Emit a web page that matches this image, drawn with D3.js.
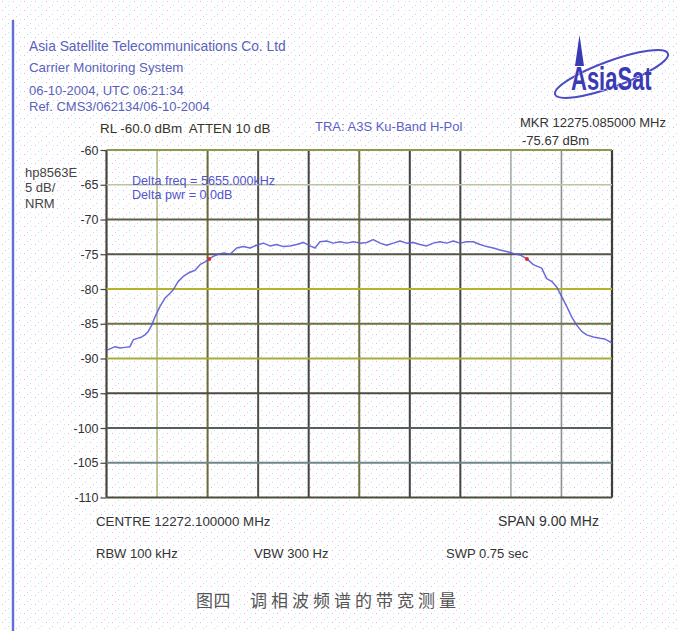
<!DOCTYPE html>
<html>
<head>
<meta charset="utf-8">
<title>AsiaSat carrier bandwidth measurement</title>
<script src="https://cdn.jsdelivr.net/npm/d3@7"></script>
<style>
  html, body { margin: 0; padding: 0; background: #fff; }
  svg { display: block; font-family: "Liberation Sans", Arial, sans-serif; }
  text { white-space: pre; }
</style>
</head>
<body>
<svg id="chart" width="679" height="631"></svg>
<script>
// Analyzer settings
const centreMHz = 12272.1;
const spanMHz = 9.0;
const levelTicks = [-60, -65, -70, -75, -80, -85, -90, -95, -100, -105, -110];

// Trace: frequency (MHz) and level (dBm)
const freqMHz = [
  12267.609, 12267.693, 12267.751, 12267.840, 12267.929, 12268.018, 12268.077, 12268.148,
  12268.227, 12268.285, 12268.344, 12268.405, 12268.464, 12268.553, 12268.642, 12268.731,
  12268.789, 12268.878, 12268.967, 12269.056, 12269.176, 12269.265, 12269.354, 12269.430,
  12269.501, 12269.590, 12269.692, 12269.799, 12269.918, 12270.036, 12270.155, 12270.274,
  12270.392, 12270.511, 12270.630, 12270.748, 12270.867, 12270.986, 12271.104, 12271.223,
  12271.312, 12271.401, 12271.520, 12271.638, 12271.757, 12271.877, 12271.994, 12272.113,
  12272.233, 12272.350, 12272.469, 12272.589, 12272.706, 12272.825, 12272.945, 12273.062,
  12273.182, 12273.301, 12273.418, 12273.538, 12273.657, 12273.774, 12273.894, 12274.013,
  12274.131, 12274.250, 12274.369, 12274.487, 12274.606, 12274.725, 12274.843, 12274.962,
  12275.085, 12275.199, 12275.348, 12275.437, 12275.526, 12275.615, 12275.704, 12275.793,
  12275.882, 12275.971, 12276.060, 12276.149, 12276.267, 12276.386, 12276.475, 12276.564,
  12276.600
];
const levelDbm = [
  -88.8, -88.5, -88.3, -88.5, -88.4, -88.3, -87.3, -87.1,
  -86.9, -86.6, -86.1, -85.2, -84.0, -82.5, -81.3, -80.6,
  -80.1, -78.9, -78.2, -77.7, -77.3, -76.5, -76.1, -75.67,
  -75.3, -75.0, -74.8, -75.0, -74.1, -73.9, -74.1, -73.7,
  -73.4, -73.8, -73.6, -73.9, -73.8, -73.6, -73.3, -73.8,
  -74.1, -73.2, -73.1, -73.4, -73.2, -73.4, -73.2, -73.4,
  -73.3, -72.9, -73.4, -73.7, -73.4, -73.1, -73.4, -73.3,
  -73.6, -73.8, -73.4, -73.2, -73.4, -73.1, -73.4, -73.2,
  -73.2, -73.6, -73.9, -74.1, -74.4, -74.6, -74.9, -75.1,
  -75.67, -76.5, -77.0, -78.5, -78.9, -79.7, -81.1, -82.5,
  -84.0, -85.2, -86.1, -86.6, -86.9, -87.1, -87.2, -87.6,
  -87.8
];

// Delta markers
const markerFreqMHz = [12269.430, 12275.085];
const markerLevelDbm = [-75.67, -75.67];

const svg = d3.select("#chart");

// Light print dither over the page
const defs = svg.append("defs");
const pat = defs.append("pattern")
  .attr("id", "dither").attr("width", 11).attr("height", 9)
  .attr("patternUnits", "userSpaceOnUse");
[[2, 1, "#eeb0e2"], [8, 5, "#b2e4f0"], [5, 7, "#f2c4ea"], [9, 1, "#c8eef4"]].forEach(([px, py, c]) =>
  pat.append("rect").attr("x", px).attr("y", py).attr("width", 1).attr("height", 1).attr("fill", c));
svg.append("rect").attr("width", 679).attr("height", 631).attr("fill", "#fff");
svg.append("rect").attr("width", 679).attr("height", 631).attr("fill", "url(#dither)");

// Page edge
svg.append("line").attr("x1", 13).attr("x2", 13).attr("y1", 20).attr("y2", 631)
  .attr("stroke", "#5f70d8").attr("stroke-width", 2.4);

// Plot area
const plot = { left: 106.5, right: 612, top: 150, bottom: 497.5 };
const x = d3.scaleLinear()
  .domain([centreMHz - spanMHz / 2, centreMHz + spanMHz / 2])
  .range([plot.left, plot.right]);
const y = d3.scaleLinear()
  .domain([d3.max(levelTicks), d3.min(levelTicks)])
  .range([plot.top, plot.bottom]);

const freqGrid = d3.range(11).map(i => centreMHz - spanMHz / 2 + i * spanMHz / 10);

const hStyle = [
  ["#8c9a4a", 2], ["#b9c6a2", 1.6], ["#5d5e44", 2], ["#55574a", 2], ["#b3b42c", 2],
  ["#6e7042", 2], ["#a9aa3c", 2], ["#4b4c42", 2], ["#53605e", 2], ["#6f8688", 1.8], ["#4b4c3a", 2.2]
];
const vStyle = [
  ["#45463c", 2.2], ["#b2ba84", 1.6], ["#6b6b34", 2], ["#505049", 2], ["#424242", 2],
  ["#727244", 2], ["#424242", 2], ["#454545", 2], ["#a4aca4", 1.6], ["#8a9292", 1.6], ["#3f3f3a", 2.2]
];

const grid = svg.append("g");
grid.selectAll("line.v").data(freqGrid).join("line")
  .attr("class", "v")
  .attr("x1", d => x(d)).attr("x2", d => x(d))
  .attr("y1", plot.top).attr("y2", plot.bottom)
  .attr("stroke", (d, i) => vStyle[i][0]).attr("stroke-width", (d, i) => vStyle[i][1]);
grid.selectAll("line.h").data(levelTicks).join("line")
  .attr("class", "h")
  .attr("x1", plot.left).attr("x2", plot.right)
  .attr("y1", d => y(d)).attr("y2", d => y(d))
  .attr("stroke", (d, i) => hStyle[i][0]).attr("stroke-width", (d, i) => hStyle[i][1]);

// Level axis
const yAxis = svg.append("g")
  .attr("transform", `translate(${plot.left},0)`)
  .call(d3.axisLeft(y).tickValues(levelTicks).tickSize(6).tickPadding(2).tickFormat(d => String(d)));
yAxis.select(".domain").remove();
yAxis.selectAll(".tick line").attr("stroke", "#444").attr("stroke-width", 1.2);
yAxis.selectAll(".tick text")
  .attr("fill", "#333").style("font-size", "12.5px")
  .style("font-family", '"Liberation Sans", Arial, sans-serif');

// Trace
const line = d3.line().x((d, i) => x(freqMHz[i])).y(d => y(d));
svg.append("path").datum(levelDbm)
  .attr("d", line)
  .attr("fill", "none")
  .attr("stroke", "#5a5ad4")
  .attr("stroke-width", 1.5)
  .attr("stroke-linejoin", "round")
  .attr("opacity", 0.9);

svg.selectAll("circle.mkr").data(markerFreqMHz).join("circle")
  .attr("class", "mkr")
  .attr("cx", d => x(d)).attr("cy", (d, i) => y(markerLevelDbm[i]))
  .attr("r", 2).attr("fill", "#e02a2a");

// Text blocks
function txt(s, tx, ty, size, fill, extra) {
  const t = svg.append("text").attr("x", tx).attr("y", ty)
    .style("font-size", size + "px").attr("fill", fill).text(s);
  if (extra) extra(t);
  return t;
}
const hdr = "#5a62bc";
txt("Asia Satellite Telecommunications Co. Ltd", 29, 51, 13.8, hdr);
txt("Carrier Monitoring System", 29, 72, 13.3, hdr);
txt("06-10-2004, UTC 06:21:34", 29, 95, 13, hdr);
txt("Ref. CMS3/062134/06-10-2004", 29, 111, 13, hdr);

txt("RL -60.0 dBm  ATTEN 10 dB", 100, 133, 13.4, "#34341f");
txt("TRA: A3S Ku-Band H-Pol", 315, 131, 13, "#5e5ec8");
txt("MKR 12275.085000 MHz", 520, 127, 13, "#333");
txt("-75.67 dBm", 522, 145, 13, "#333");

txt("hp8563E", 25, 177, 13, "#444");
txt("5 dB/", 25, 192, 13, "#444");
txt("NRM", 25, 208, 13, "#444");

txt("Delta freq = 5655.000kHz", 132, 185, 12.6, "#5454cc");
txt("Delta pwr = 0.0dB", 132, 199, 12.6, "#5454cc");

txt("CENTRE 12272.100000 MHz", 96, 526, 13.3, "#333");
txt("SPAN 9.00 MHz", 498, 526, 14, "#333");
txt("RBW 100 kHz", 96, 558, 13, "#333");
txt("VBW 300 Hz", 254, 558, 13, "#333");
txt("SWP 0.75 sec", 446, 558, 13, "#333");

const cjk = '"Noto Sans CJK SC", "Noto Sans", sans-serif';
txt("图四", 196, 607, 17, "#555", t => t.style("font-family", cjk).style("letter-spacing", "0.5px"));
txt("调相波频谱的带宽测量", 250, 607, 17, "#555", t => t.style("font-family", cjk).style("letter-spacing", "4px"));

// Logo
const logo = svg.append("g").attr("fill", "none");
logo.append("ellipse")
  .attr("cx", 611.5).attr("cy", 74).attr("rx", 60).attr("ry", 13)
  .attr("transform", "rotate(-20 611.5 74)")
  .attr("stroke", "#4b4bc6").attr("stroke-width", 2);
logo.append("path")
  .attr("d", "M579.5,35 L575,66 L584,66 Z")
  .attr("fill", "#3a3ab4");
logo.append("text")
  .attr("transform", "translate(571,90) scale(1,1.5)")
  .attr("x", 0).attr("y", 0)
  .style("font-size", "22px").style("font-weight", "bold")
  .style("font-family", '"Liberation Sans", Arial, sans-serif')
  .attr("fill", "#3a3ab4").attr("stroke", "#fff").attr("stroke-width", 0.5)
  .attr("paint-order", "stroke")
  .text("AsiaSat");
</script>
</body>
</html>
